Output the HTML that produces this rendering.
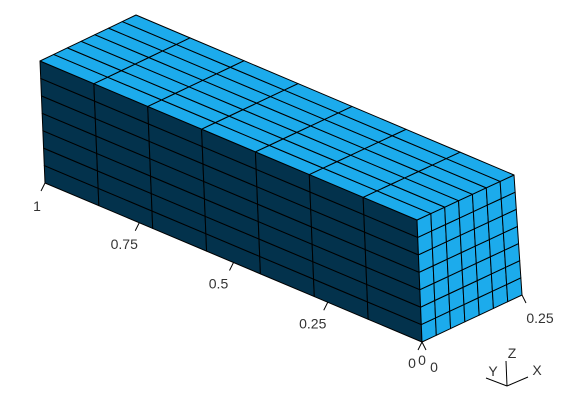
<!DOCTYPE html>
<html><head><meta charset="utf-8"><style>
html,body{margin:0;padding:0;background:#fff;}
svg{display:block;font-family:"Liberation Sans",sans-serif;}
</style></head><body>
<svg id="c" width="583" height="407" viewBox="0 0 583 407"></svg>
<script>
// data
const yTicks = [1, 0.75, 0.5, 0.25, 0];
const yTickLabels = ["1", "0.75", "0.5", "0.25", "0"];
const xTicks = [0, 0.25];
const xTickLabels = ["0", "0.25"];
const zTicks = [0];
const zTickLabels = ["0"];
const nLen = 7, nWid = 7, nHgt = 7;
const xMax = 0.25, yMax = 1, zMax = 0.25;

// projected corners (x, y, z)
const P = {
  "0,1,1": [40, 61], "1,1,1": [136, 15], "0,0,1": [417, 220], "1,0,1": [514, 175],
  "0,0,0": [422, 342], "1,0,0": [522, 295], "0,1,0": [45, 183], "1,1,0": [141, 137]
};
function proj(x, y, z) {
  const u = x / xMax, v = y / yMax, w = z / zMax;
  let r = [0, 0];
  for (const a of [0, 1]) for (const b of [0, 1]) for (const c of [0, 1]) {
    const wt = (a ? u : 1 - u) * (b ? v : 1 - v) * (c ? w : 1 - w);
    const p = P[a + "," + b + "," + c];
    r[0] += wt * p[0]; r[1] += wt * p[1];
  }
  return r;
}
const svg = document.getElementById('c');
const NS = "http://www.w3.org/2000/svg";
function add(tag, attrs, name) {
  const e = document.createElementNS(NS, tag);
  for (const k in attrs) e.setAttribute(k, attrs[k]);
  
  
  svg.appendChild(e);
  return e;
}
function quad(pts, fill, name) {
  return add('polygon', {points: pts.map(p => p.join(',')).join(' '), fill: fill, stroke: '#000', 'stroke-width': 1, 'stroke-linejoin': 'round'}, name);
}
const TOP = '#1cabec', SIDE = '#03324c';
for (let i = 0; i < nLen; i++) for (let k = 0; k < nHgt; k++) {
  const y0 = yMax * (1 - i / nLen), y1 = yMax * (1 - (i + 1) / nLen);
  const z0 = zMax * k / nHgt, z1 = zMax * (k + 1) / nHgt;
  quad([proj(0, y0, z0), proj(0, y1, z0), proj(0, y1, z1), proj(0, y0, z1)], SIDE, 'side-cell');
}
for (let j = 0; j < nWid; j++) for (let k = 0; k < nHgt; k++) {
  const x0 = xMax * j / nWid, x1 = xMax * (j + 1) / nWid;
  const z0 = zMax * k / nHgt, z1 = zMax * (k + 1) / nHgt;
  quad([proj(x0, 0, z0), proj(x1, 0, z0), proj(x1, 0, z1), proj(x0, 0, z1)], TOP, 'front-cell');
}
for (let i = 0; i < nLen; i++) for (let j = 0; j < nWid; j++) {
  const y0 = yMax * i / nLen, y1 = yMax * (i + 1) / nLen;
  const x0 = xMax * j / nWid, x1 = xMax * (j + 1) / nWid;
  quad([proj(x0, y0, zMax), proj(x1, y0, zMax), proj(x1, y1, zMax), proj(x0, y1, zMax)], TOP, 'top-cell');
}
yTicks.forEach((t, i) => {
  const p = proj(0, t, 0);
  add('line', {x1: p[0], y1: p[1], x2: p[0] - 4, y2: p[1] + 8, stroke: '#000'}, 'y-tick');
  const first = i === 0, last = i === yTicks.length - 1;
  const dx = first ? -8 : (last ? -10 : -15);
  const dy = first ? 28 : 26;
  const lbl = add('text', {x: p[0] + dx, y: p[1] + dy, 'text-anchor': 'middle', 'font-size': 14, fill: '#333'}, 'y-tick-label');
  lbl.textContent = yTickLabels[i];
});
xTicks.forEach((t, i) => {
  const p = proj(t, 0, 0);
  add('line', {x1: p[0], y1: p[1], x2: p[0] + 4, y2: p[1] + 8, stroke: '#000'}, 'x-tick');
  const lbl = add('text', {x: p[0] + (i ? 18 : 12), y: p[1] + (i ? 28 : 30), 'text-anchor': 'middle', 'font-size': 14, fill: '#333'}, 'x-tick-label');
  lbl.textContent = xTickLabels[i];
});
zTicks.forEach((t, i) => {
  const p = proj(0, 0, t);
  const lbl = add('text', {x: p[0], y: p[1] + 23, 'text-anchor': 'middle', 'font-size': 14, fill: '#333'}, 'z-tick-label');
  lbl.textContent = zTickLabels[i];
});
const O = [507, 386];
add('line', {x1: O[0], y1: O[1], x2: 506, y2: 361, stroke: '#000'}, 'triad-z');
add('line', {x1: O[0], y1: O[1], x2: 528, y2: 377, stroke: '#000'}, 'triad-x');
add('line', {x1: O[0], y1: O[1], x2: 486, y2: 378, stroke: '#000'}, 'triad-y');
[['Z', 512, 358], ['X', 537, 375], ['Y', 493, 376]].forEach(a => {
  const t = add('text', {x: a[1], y: a[2], 'text-anchor': 'middle', 'font-size': 14, fill: '#333'}, 'triad-label-' + a[0].toLowerCase());
  t.textContent = a[0];
});
</script>
</body></html>
